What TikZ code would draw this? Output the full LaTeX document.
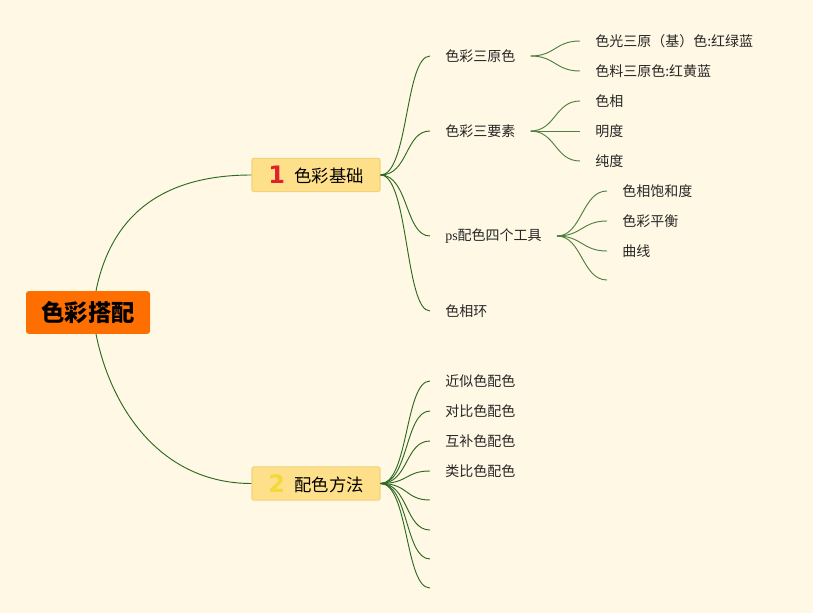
\documentclass[tikz,border=0pt]{standalone}
\usepackage{fontspec}
\setmainfont{Noto Sans CJK SC}
\newfontfamily\latinserif{Liberation Serif}
\newfontfamily\numfont{DejaVu Sans}
\definecolor{bgc}{HTML}{FFF8E5}
\definecolor{lineg}{HTML}{2D6A1F}
\definecolor{lineg2}{HTML}{4F8040}
\definecolor{rootc}{HTML}{FF6F00}
\definecolor{mainc}{HTML}{FFE08A}
\definecolor{mainb}{HTML}{F2D27A}
\definecolor{numred}{HTML}{E0202A}
\definecolor{numyel}{HTML}{F3D83A}
\begin{document}
\begin{tikzpicture}[x=0.75pt,y=-0.75pt,
  every node/.style={font=\fontsize{10.5}{12}\selectfont, text=black!85, inner ysep=2pt, inner xsep=11.25pt, anchor=west},
  link/.style={draw=lineg, line width=0.7pt},
  sublink/.style={draw=lineg2, line width=0.7pt},
  rootbox/.style={anchor=center, fill=rootc, rounded corners=2pt, minimum width=93pt, minimum height=32pt, inner xsep=0pt, font=\fontsize{17.5}{20}\selectfont\bfseries, text=black},
  mainbox/.style={anchor=center, fill=mainc, draw=mainb, line width=0.8pt, rounded corners=1.5pt, minimum width=96pt, minimum height=25pt, inner xsep=0pt, font=\fontsize{13}{15}\selectfont, text=black},
  numstyle/.style={}]
\fill[bgc] (0,0) rectangle (813,613);
\useasboundingbox (0,0) rectangle (813,613);

\node[rootbox] (root) at (88,312.5) {色彩搭配};
\node[mainbox] (b1) at (316,175) {\raisebox{-1pt}{\numfont\fontsize{18}{18}\selectfont\bfseries\color{numred}1}\hspace{7pt}色彩基础};
\node[mainbox] (b2) at (316,483.5) {\raisebox{-1pt}{\numfont\fontsize{18}{18}\selectfont\bfseries\color{numyel}2}\hspace{7pt}配色方法};
\coordinate (rt) at ([xshift=6pt]root.north);
\coordinate (rb) at ([xshift=6pt]root.south);

\node (c1) at (430,56) {色彩三原色};
\node (c2) at (430,131) {色彩三要素};
\node (c3) at (430,236) {{\latinserif ps}配色四个工具};
\node (c4) at (430,311) {色相环};
\node (d1) at (580,41) {色光三原（基）色:红绿蓝};
\node (d2) at (580,71) {色料三原色:红黄蓝};
\node (e1) at (580,101) {色相};
\node (e2) at (580,131) {明度};
\node (e3) at (580,161) {纯度};
\node (f1) at (607,191) {色相饱和度};
\node (f2) at (607,221) {色彩平衡};
\node (f3) at (607,251) {曲线};
\coordinate (f4) at (607,280);
\node (g1) at (430,381) {近似色配色};
\node (g2) at (430,411) {对比色配色};
\node (g3) at (430,441) {互补色配色};
\node (g4) at (430,471) {类比色配色};
\coordinate (g5) at (430,500);
\coordinate (g6) at (430,530);
\coordinate (g7) at (430,559);
\coordinate (g8) at (430,588);

\draw[link] (rt) .. controls +(15,-75) and +(-90,0) .. (b1.west);
\draw[link] (rb) .. controls +(15,75) and +(-90,0) .. (b2.west);

\foreach \t in {c1,c2,c3,c4}
  \draw[link] (b1.east) .. controls +(28,0) and +(-25,0) .. (\t.west);
\foreach \t in {g1,g2,g3,g4}
  \draw[link] (b2.east) .. controls +(28,0) and +(-25,0) .. (\t.west);
\foreach \t in {g5,g6,g7,g8}
  \draw[link] (b2.east) .. controls +(28,0) and +(-25,0) .. (\t);
\foreach \t in {d1,d2}
  \draw[sublink] (c1.east) .. controls +(25,0) and +(-25,0) .. (\t.west);
\foreach \t in {e1,e2,e3}
  \draw[sublink] (c2.east) .. controls +(25,0) and +(-25,0) .. (\t.west);
\foreach \t in {f1,f2,f3}
  \draw[sublink] (c3.east) .. controls +(25,0) and +(-25,0) .. (\t.west);
\draw[sublink] (c3.east) .. controls +(25,0) and +(-25,0) .. (f4);
\end{tikzpicture}
\end{document}
